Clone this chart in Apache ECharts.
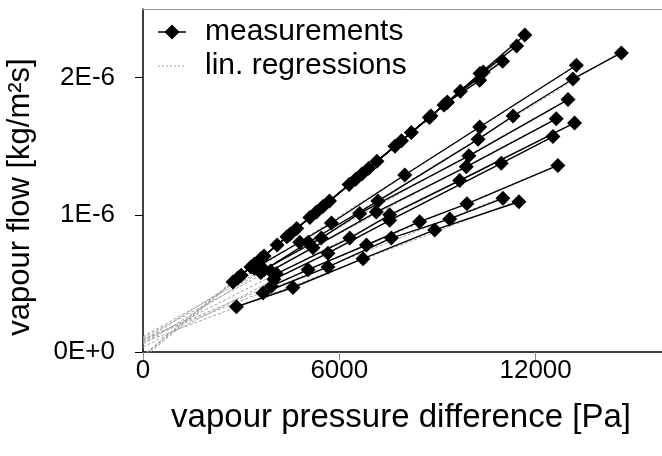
<!DOCTYPE html>
<html>
<head>
<meta charset="utf-8">
<script src="https://cdn.jsdelivr.net/npm/echarts@6/dist/echarts.min.js"></script>
<style>
html,body{margin:0;padding:0;background:#fff;}
#chart{width:662px;height:456px;}
</style>
</head>
<body>
<div id="chart"></div>
<script>
// x: vapour pressure difference [Pa], y: vapour flow in units of 1E-6 kg/m²s
const bandS1 = [[2750,0.51],[3400,0.64],[4400,0.84],[5500,1.06],[6500,1.26],[7900,1.54],[9200,1.80],[10300,2.03],[11670,2.31]];
const bandS2 = [[3000,0.56],[3700,0.70],[4700,0.90],[5700,1.10],[6900,1.34],[8200,1.60],[9300,1.82],[10400,2.04],[11420,2.23]];
const bandS3 = [[3300,0.62],[4100,0.78],[5100,0.98],[6300,1.22],[7150,1.39],[8800,1.72],[9700,1.90],[10990,2.12]];
const bandS4 = [[2900,0.54],[3600,0.68],[4500,0.86],[5300,1.02],[6700,1.30],[7700,1.50],[8750,1.71],[9300,1.82],[10290,1.98]];
const fanS1 = [[3600,0.58],[5050,0.80],[7180,1.10],[10240,1.55],[11310,1.72],[13140,1.99],[14620,2.18]];
const fanS2 = [[3400,0.61],[4790,0.80],[5760,0.94],[8000,1.29],[10290,1.64],[13245,2.09]];
const fanS3 = [[3700,0.60],[5450,0.83],[6620,1.01],[9960,1.43],[12990,1.84]];
const fanS4 = [[3900,0.59],[5195,0.76],[7130,1.02],[9880,1.35],[12630,1.70]];
const fanS5 = [[4075,0.57],[6320,0.83],[7540,1.00],[9680,1.25],[13190,1.67]];
const fanS6 = [[4000,0.53],[5655,0.72],[7540,0.96],[10950,1.375],[12530,1.57]];
const fanS7 = [[3925,0.48],[5045,0.60],[6830,0.78],[8455,0.95],[9900,1.08],[12680,1.36]];
const fanS8 = [[2855,0.33],[4585,0.47],[6725,0.68],[8915,0.89],[11490,1.095]];
const fanS9 = [[3670,0.43],[5655,0.62],[7590,0.83],[9375,0.97],[11000,1.12]];

const xTicks = [0, 6000, 12000];
const yTicks = [0, 1, 2];
const yTickLabels = ['0E+0', '1E-6', '2E-6'];
const legendNames = ['measurements', 'lin. regressions'];
const xTitle = 'vapour pressure difference [Pa]';
const yTitle = 'vapour flow [kg/m²s]';

const allMeasurements = [bandS1, bandS2, bandS3, bandS4, fanS1, fanS2, fanS3, fanS4, fanS5, fanS6, fanS7, fanS8, fanS9];

function regression(pts) {
  const n = pts.length;
  let sx = 0, sy = 0, sxx = 0, sxy = 0;
  pts.forEach(p => { sx += p[0]; sy += p[1]; sxx += p[0]*p[0]; sxy += p[0]*p[1]; });
  const m = (n*sxy - sx*sy) / (n*sxx - sx*sx);
  const b = (sy - m*sx) / n;
  const xe = Math.max.apply(null, pts.map(p => p[0]));
  return [[0, b], [xe, b + m*xe]];
}

const FONT = "'Liberation Sans', Arial, sans-serif";
const series = [];
allMeasurements.forEach(pts => {
  series.push({
    name: legendNames[1], type: 'line', data: regression(pts),
    showSymbol: false, symbol: 'none', silent: true, z: 1,
    lineStyle: { color: '#a0a0a0', width: 1, type: [3, 2] }
  });
});
allMeasurements.forEach(pts => {
  series.push({
    name: legendNames[0], type: 'line', data: pts,
    symbol: 'diamond', symbolSize: 15, z: 3,
    lineStyle: { color: '#000', width: 1.4 },
    itemStyle: { color: '#000', borderWidth: 0 }
  });
});

const chart = echarts.init(document.getElementById('chart'), null, { renderer: 'canvas' });
chart.setOption({
  animation: false,
  backgroundColor: '#fff',
  grid: { left: 143, top: 9, width: 523.5, height: 343, outerBoundsMode: 'none', containLabel: false },
  xAxis: [{
    type: 'value', min: 0, max: 16000, position: 'bottom',
    axisLine: { onZero: false, lineStyle: { color: '#000', width: 1.5 } },
    axisTick: { show: true, length: 8, customValues: xTicks, lineStyle: { color: '#888', width: 1 } },
    axisLabel: { customValues: xTicks, fontFamily: FONT, fontSize: 26, color: '#000', margin: 6,
      formatter: function (v) { return String(v); } },
    splitLine: { show: false }
  }, {
    type: 'value', min: 0, max: 16000, position: 'top',
    axisLine: { show: true, onZero: false, lineStyle: { color: '#999', width: 1 } },
    axisTick: { show: false }, axisLabel: { show: false }, splitLine: { show: false }
  }],
  yAxis: {
    type: 'value', min: 0, max: 2.5,
    axisLine: { onZero: false, lineStyle: { color: '#000', width: 1.5 } },
    axisTick: { show: true, length: 8, customValues: yTicks, lineStyle: { color: '#000', width: 1 } },
    axisLabel: {
      customValues: yTicks, fontFamily: FONT, fontSize: 26, color: '#000', margin: 28,
      formatter: function (v) { const i = yTicks.indexOf(v); return i >= 0 ? yTickLabels[i] : ''; }
    },
    splitLine: { show: false }
  },
  graphic: [
    { type: 'line', shape: { x1: 158, y1: 32, x2: 186, y2: 32 }, style: { stroke: '#000', lineWidth: 1.5 }, z: 10 },
    { type: 'polygon', shape: { points: [[172, 24.5], [179.5, 32], [172, 39.5], [164.5, 32]] }, style: { fill: '#000' }, z: 10 },
    { type: 'text', x: 205, y: 32, style: { text: legendNames[0], font: '30px ' + FONT, fill: '#000', align: 'left', verticalAlign: 'middle' }, z: 10 },
    { type: 'line', shape: { x1: 158, y1: 66, x2: 184, y2: 66 }, style: { stroke: '#a0a0a0', lineWidth: 1, lineDash: [2, 2] }, z: 10 },
    { type: 'text', x: 205, y: 66, style: { text: legendNames[1], font: '30px ' + FONT, fill: '#000', align: 'left', verticalAlign: 'middle' }, z: 10 },
    { type: 'text', x: 401, y: 418, style: { text: xTitle, font: '33px ' + FONT, fill: '#000', align: 'center', verticalAlign: 'middle' } },
    { type: 'text', x: 20, y: 197, rotation: Math.PI / 2, style: { text: yTitle, font: '31px ' + FONT, fill: '#000', align: 'center', verticalAlign: 'middle' } }
  ],
  series: series
});
</script>
</body>
</html>
